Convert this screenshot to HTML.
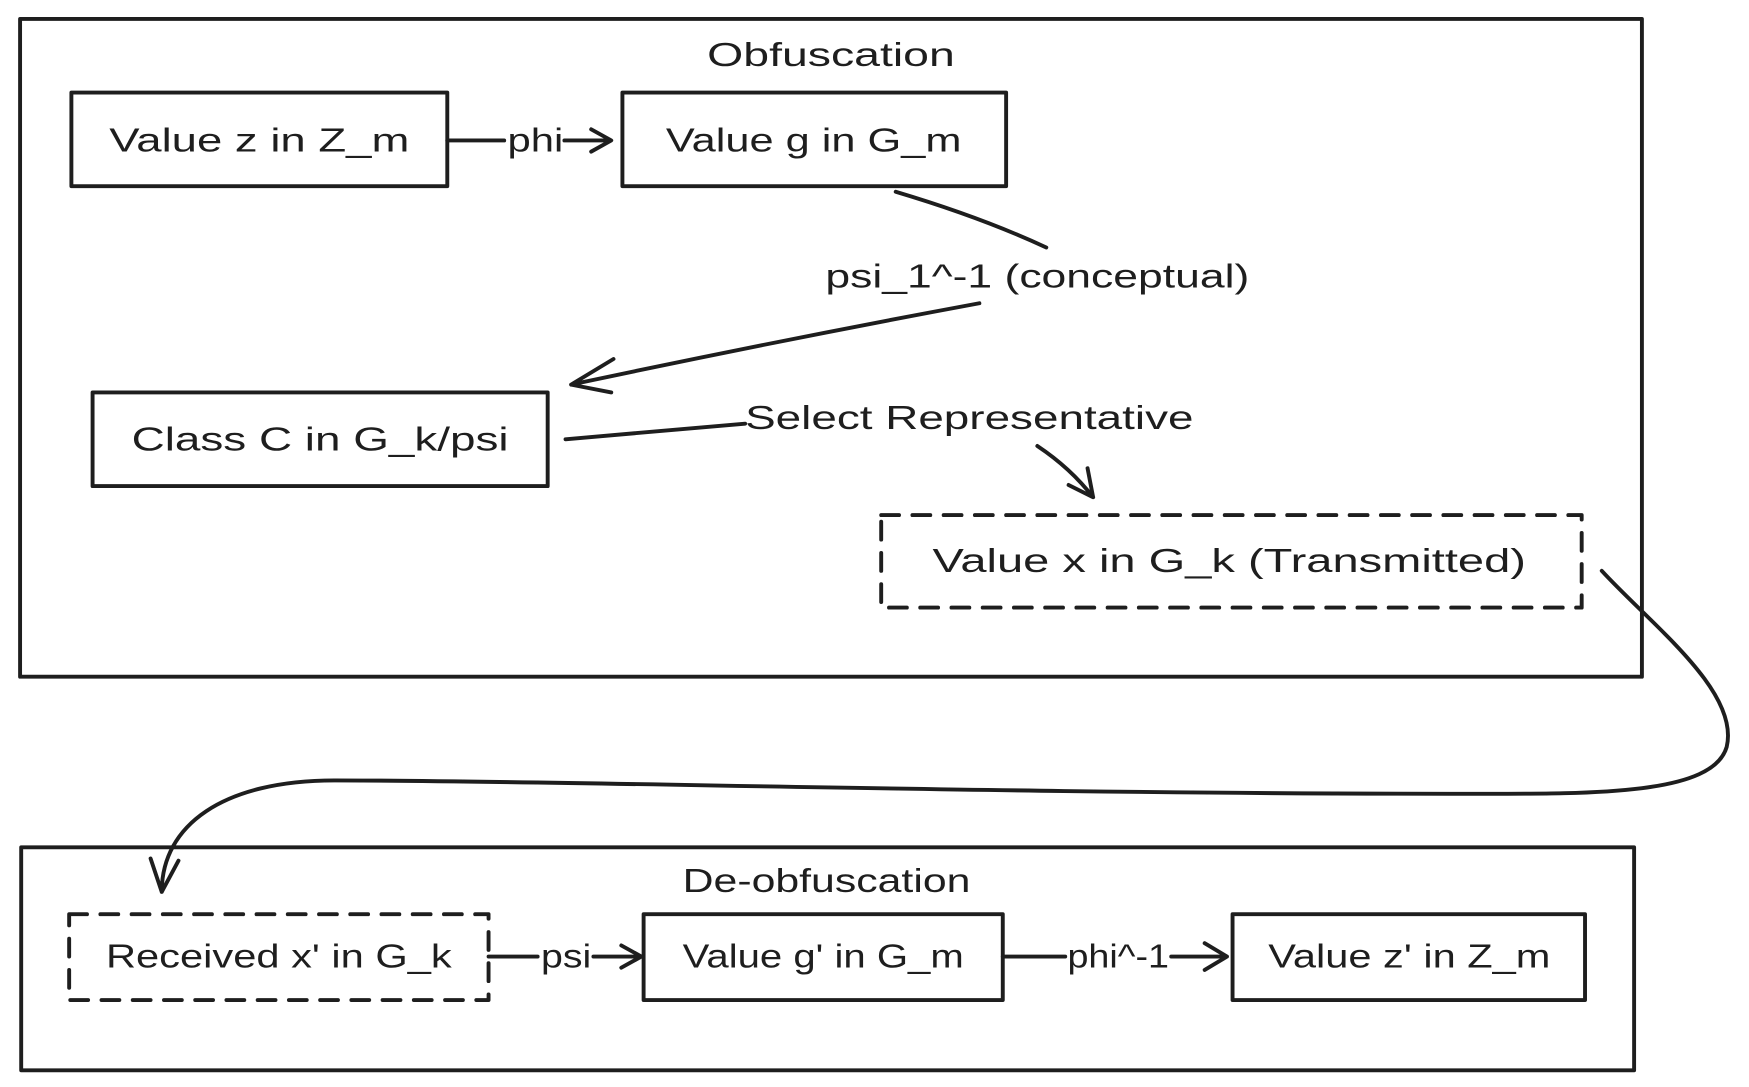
<!DOCTYPE html>
<html><head><meta charset="utf-8"><style>
html,body{margin:0;padding:0;background:#fff;}
svg{display:block;}
text{font-family:"Liberation Sans",sans-serif;fill:#1e1e1e;}
</style></head><body>
<svg width="1749" height="1087" viewBox="0 0 1568 975" preserveAspectRatio="none" xmlns="http://www.w3.org/2000/svg">
<g fill="none" stroke="#1e1e1e" stroke-width="3.5" stroke-linecap="round" stroke-linejoin="round">
<rect x="18" y="17" width="1454" height="590"/>
<rect x="64" y="83" width="337" height="84"/>
<rect x="558" y="83" width="344" height="84"/>
<rect x="83" y="352" width="408" height="84"/>
<rect x="790" y="462" width="628" height="83" stroke-dasharray="16 12"/>
<rect x="19" y="760" width="1446" height="200"/>
<rect x="62" y="820" width="376" height="77" stroke-dasharray="16 12"/>
<rect x="577" y="820" width="322" height="77"/>
<rect x="1105" y="820" width="316" height="77"/>
<path d="M401 126 L452 126 M506 126 L547 126 M530 116 L548 126 L530 136"/>
<path d="M803 172 Q880 195 938 222"/>
<path d="M878 272 Q700 305 512 345 M550 322 L512 345 L548 352"/>
<path d="M507 394 L668 380"/>
<path d="M930 400 Q960 420 980 446 M975 420 L980 446 L958 435"/>
<path d="M1436 512 C1480 560 1560 620 1548 670 C1535 715 1420 712 1300 712 C900 712 500 700 300 700 C200 700 145 740 145 800 M135 770 L145 800 L160 772"/>
<path d="M438 858 L482 858 M532 858 L575 858 M557 848 L575 858 L557 868"/>
<path d="M899 858 L955 858 M1050 858 L1100 858 M1080 846 L1100 858 L1080 870"/>
</g>
<g font-size="30">
<text x="745" y="59" text-anchor="middle" textLength="222" lengthAdjust="spacingAndGlyphs">Obfuscation</text>
<text x="98" y="136" textLength="269" lengthAdjust="spacingAndGlyphs">Value z in Z_m</text>
<text x="455" y="136" textLength="50" lengthAdjust="spacingAndGlyphs">phi</text>
<text x="597" y="136" textLength="265" lengthAdjust="spacingAndGlyphs">Value g in G_m</text>
<text x="740" y="258" textLength="380" lengthAdjust="spacingAndGlyphs">psi_1^-1 (conceptual)</text>
<text x="118" y="404" textLength="338" lengthAdjust="spacingAndGlyphs">Class C in G_k/psi</text>
<text x="668" y="385" textLength="402" lengthAdjust="spacingAndGlyphs">Select Representative</text>
<text x="836" y="513" textLength="532" lengthAdjust="spacingAndGlyphs">Value x in G_k (Transmitted)</text>
<text x="741" y="800" text-anchor="middle" textLength="258" lengthAdjust="spacingAndGlyphs">De-obfuscation</text>
<text x="95" y="868" textLength="310" lengthAdjust="spacingAndGlyphs">Received x' in G_k</text>
<text x="485" y="868" textLength="45" lengthAdjust="spacingAndGlyphs">psi</text>
<text x="612" y="868" textLength="252" lengthAdjust="spacingAndGlyphs">Value g' in G_m</text>
<text x="957" y="868" textLength="91" lengthAdjust="spacingAndGlyphs">phi^-1</text>
<text x="1137" y="868" textLength="253" lengthAdjust="spacingAndGlyphs">Value z' in Z_m</text>
</g>
</svg>
</body></html>
